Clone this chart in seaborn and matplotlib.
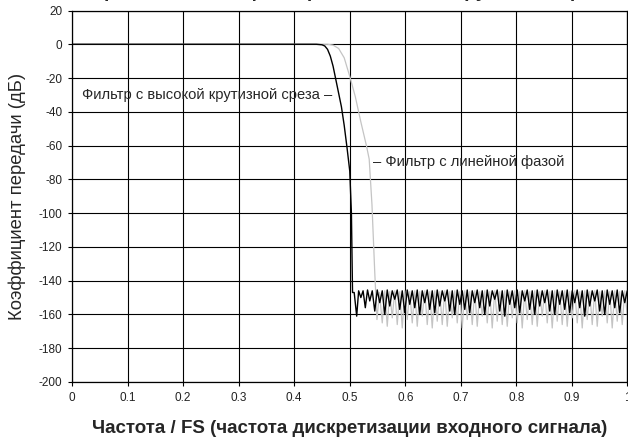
import matplotlib
matplotlib.use("Agg")
import matplotlib.pyplot as plt
from matplotlib import font_manager
import seaborn as sns
import pandas as pd

# passband / transition band
black_pass_f = [0.0, 0.44, 0.45, 0.455, 0.46, 0.465, 0.47, 0.475, 0.48, 0.485,
                0.49, 0.495, 0.5, 0.503, 0.505]
black_pass_db = [0, 0, -0.3, -1, -3, -7, -13, -21, -29, -37,
                 -48, -61, -75, -100, -147]

grey_pass_f = [0.0, 0.46, 0.47, 0.48, 0.49, 0.5, 0.51, 0.516, 0.52, 0.525,
               0.53, 0.535, 0.54, 0.545, 0.549]
grey_pass_db = [0, 0, -0.5, -2.5, -8, -19, -31, -40, -46, -53,
                -60, -68, -95, -135, -163]

# stopband ripple, alternating peak / null
black_stop_f = [
    0.508, 0.5125, 0.516, 0.520, 0.524, 0.528, 0.532, 0.536, 0.5405, 0.545,
    0.5495, 0.554, 0.5585, 0.563, 0.5675, 0.572, 0.5765, 0.581, 0.5855, 0.590,
    0.5945, 0.599, 0.6035, 0.608, 0.6125, 0.617, 0.6215, 0.626, 0.6305, 0.635,
    0.6395, 0.644, 0.6485, 0.653, 0.6575, 0.662, 0.6665, 0.671, 0.6755, 0.680,
    0.6845, 0.689, 0.6935, 0.698, 0.7025, 0.707, 0.7115, 0.716, 0.7205, 0.725,
    0.7295, 0.734, 0.7385, 0.743, 0.7475, 0.752, 0.7565, 0.761, 0.7655, 0.770,
    0.7745, 0.779, 0.7835, 0.788, 0.7925, 0.797, 0.8015, 0.806, 0.8105, 0.815,
    0.8195, 0.824, 0.8285, 0.833, 0.8375, 0.842, 0.8465, 0.851, 0.8555, 0.860,
    0.8645, 0.869, 0.8735, 0.878, 0.8825, 0.887, 0.8915, 0.896, 0.9005, 0.905,
    0.9095, 0.914, 0.9185, 0.923, 0.9275, 0.932, 0.9365, 0.941, 0.9455, 0.950,
    0.9545, 0.959, 0.9635, 0.968, 0.9725, 0.977, 0.9815, 0.986, 0.9905, 0.995,
    0.9995,
]
black_stop_db = [
    -147, -161, -146, -150, -146, -156, -145.5, -152, -146, -158,
    -145.5, -153, -146, -160, -145.5, -155, -146, -151, -145.5, -157,
    -146, -159, -145.5, -154, -146, -156, -145.5, -160, -146, -153,
    -145.5, -157, -146, -159, -145.5, -155, -146, -152, -145.5, -158,
    -146, -160, -145.5, -154, -146, -157, -145.5, -159, -146, -153,
    -145.5, -156, -146, -160, -145.5, -155, -146, -151, -145.5, -158,
    -146, -161, -145.5, -154, -146, -156, -145.5, -159, -146, -152,
    -145.5, -157, -146, -160, -145.5, -155, -146, -153, -145.5, -158,
    -146, -160, -145.5, -154, -146, -157, -145.5, -159, -146, -153,
    -145.5, -156, -146, -161, -145.5, -155, -146, -152, -145.5, -158,
    -146, -160, -145.5, -154, -146, -156, -145.5, -159, -146, -153,
    -146,
]

grey_stop_f = [
    0.5535, 0.5585, 0.563, 0.5675, 0.572, 0.5765, 0.581, 0.5855, 0.590, 0.5945,
    0.599, 0.6035, 0.608, 0.6125, 0.617, 0.6215, 0.626, 0.6305, 0.635, 0.6395,
    0.644, 0.6485, 0.653, 0.6575, 0.662, 0.6665, 0.671, 0.6755, 0.680, 0.6845,
    0.689, 0.6935, 0.698, 0.7025, 0.707, 0.7115, 0.716, 0.7205, 0.725, 0.7295,
    0.734, 0.7385, 0.743, 0.7475, 0.752, 0.7565, 0.761, 0.7655, 0.770, 0.7745,
    0.779, 0.7835, 0.788, 0.7925, 0.797, 0.8015, 0.806, 0.8105, 0.815, 0.8195,
    0.824, 0.8285, 0.833, 0.8375, 0.842, 0.8465, 0.851, 0.8555, 0.860, 0.8645,
    0.869, 0.8735, 0.878, 0.8825, 0.887, 0.8915, 0.896, 0.9005, 0.905, 0.9095,
    0.914, 0.9185, 0.923, 0.9275, 0.932, 0.9365, 0.941, 0.9455, 0.950, 0.9545,
    0.959, 0.9635, 0.968, 0.9725, 0.977, 0.9815, 0.986, 0.9905, 0.995, 0.9995,
]
grey_stop_db = [
    -147, -165, -146, -167, -146.5, -162, -146, -166, -146.5, -168,
    -146, -163, -146.5, -165, -146, -167, -146.5, -161, -146, -166,
    -146.5, -168, -146, -164, -146.5, -166, -146, -167, -146.5, -162,
    -146, -165, -146.5, -168, -146, -163, -146.5, -166, -146, -167,
    -146.5, -161, -146, -165, -146.5, -168, -146, -164, -146.5, -166,
    -146, -167, -146.5, -162, -146, -165, -146.5, -168, -146, -163,
    -146.5, -166, -146, -167, -146.5, -161, -146, -165, -146.5, -168,
    -146, -164, -146.5, -166, -146, -167, -146.5, -162, -146, -165,
    -146.5, -168, -146, -163, -146.5, -166, -146, -167, -146.5, -161,
    -146, -165, -146.5, -168, -146, -164, -146.5, -166, -146, -160,
]

x_ticks = [0, 0.1, 0.2, 0.3, 0.4, 0.5, 0.6, 0.7, 0.8, 0.9, 1]
x_tick_labels = ["0", "0.1", "0.2", "0.3", "0.4", "0.5", "0.6", "0.7", "0.8", "0.9", "1"]
y_ticks = [20, 0, -20, -40, -60, -80, -100, -120, -140, -160, -180, -200]

title_text = "Сравнение АЧХ фильтров с высокой крутизной среза"
label_steep = "Фильтр с высокой крутизной среза –"
label_linear = "– Фильтр с линейной фазой"
x_label = "Частота / FS (частота дискретизации входного сигнала)"
y_label = "Коэффициент передачи (дБ)"

sns.set_theme(style="white")
plt.rcParams["font.family"] = ["Liberation Sans", "DejaVu Sans"]
plt.rcParams["axes.unicode_minus"] = False

installed = {f.name for f in font_manager.fontManager.ttflist}
narrow = "Liberation Sans Narrow" if "Liberation Sans Narrow" in installed else "Liberation Sans"

df_black = pd.DataFrame({"f": black_pass_f + black_stop_f,
                         "db": black_pass_db + black_stop_db})
df_grey = pd.DataFrame({"f": grey_pass_f + grey_stop_f,
                        "db": grey_pass_db + grey_stop_db})

fig = plt.figure(figsize=(6.28, 4.38), dpi=100)
ax = fig.add_axes([72 / 628, 1 - 382 / 438, 1 - 72 / 628 - 0.0008, (382 - 10.5) / 438])

sns.lineplot(data=df_grey, x="f", y="db", ax=ax, color="#c4c4c4", lw=0.9,
             estimator=None, sort=False)
sns.lineplot(data=df_black, x="f", y="db", ax=ax, color="black", lw=1.0,
             estimator=None, sort=False)

ax.set_xlim(0, 1)
ax.set_ylim(-200, 20)
ax.set_xticks(x_ticks)
ax.set_xticklabels(x_tick_labels)
ax.set_yticks(y_ticks)
ax.grid(True, color="black", lw=0.8)
ax.set_axisbelow(True)
for s in ax.spines.values():
    s.set_color("black")
    s.set_linewidth(0.9)
ax.tick_params(axis="both", which="major", labelsize=8.5, colors="black",
               direction="out", length=3, width=0.8, pad=4, bottom=True, left=True)
for lab in ax.get_xticklabels() + ax.get_yticklabels():
    lab.set_color("#222222")

ax.set_xlabel(x_label, fontsize=13.5, fontweight="bold", family=narrow, labelpad=12)
ax.set_ylabel(y_label, fontsize=13.3, labelpad=9)

ax.text(0.018, -30, label_steep, fontsize=10.6, ha="left", va="center")
ax.text(0.541, -70, label_linear, fontsize=10.6, ha="left", va="center")

fig.text(0.56, 1.007, title_text, fontsize=14, fontweight="bold",
         ha="center", va="baseline")

fig.savefig("out.png", dpi=100)
